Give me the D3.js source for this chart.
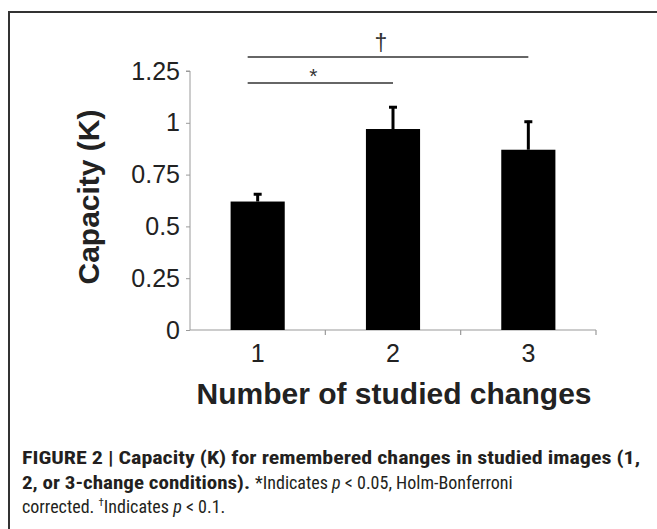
<!DOCTYPE html>
<html><head><meta charset="utf-8">
<script src="https://cdn.jsdelivr.net/npm/d3@7"></script>
<style>body{margin:0;background:#fff;overflow:hidden;}svg{display:block;}</style>
</head><body>
<svg id="c" width="657" height="529"></svg>
<script>
const categories = ["1", "2", "3"];
const values = [0.62, 0.97, 0.87];
const errors = [0.04, 0.11, 0.14];
const yTicks = [0, 0.25, 0.5, 0.75, 1, 1.25];
const yTickLabels = ["0", "0.25", "0.5", "0.75", "1", "1.25"];
const comparisons = [
  {from: "1", to: "3", mark: "†"},
  {from: "1", to: "2", mark: "*"}
];
const xTitle = "Number of studied changes";
const yTitle = "Capacity (K)";

const svg = d3.select("#c");
// frame
svg.append("rect").attr("x", 9).attr("y", 12).attr("width", 700).attr("height", 600)
  .attr("fill", "none").attr("stroke", "#333").attr("stroke-width", 2);

const x = d3.scaleBand().domain(categories).range([190, 596]).paddingInner(0).paddingOuter(0);
const y = d3.scaleLinear().domain([0, 1.25]).range([330, 71]);
const barW = x.bandwidth() * 0.4;
const font = "'Liberation Sans', Arial, sans-serif";

const axisColor = "#9a9a9a";
// y axis
const ya = svg.append("g").attr("transform", "translate(190,0)")
  .call(d3.axisLeft(y).tickValues(yTicks).tickFormat((d, i) => yTickLabels[i]).tickSize(4).tickPadding(6));
ya.select(".domain").attr("stroke", axisColor).attr("d", `M-4,${y(1.25)}H0V${y(0)}`);
ya.selectAll(".tick line").attr("stroke", axisColor);
ya.selectAll(".tick text").attr("font-family", font).attr("font-size", 25).attr("fill", "#222");

// x axis
const xa = svg.append("g").attr("transform", "translate(0,330)")
  .call(d3.axisBottom(x).tickSize(0).tickPadding(14));
xa.select(".domain").remove();
xa.selectAll(".tick text").attr("font-family", font).attr("font-size", 25).attr("fill", "#222").attr("dy", "0.71em");
const bounds = categories.map(c => x(c) + x.bandwidth());
svg.append("line").attr("x1", x.range()[0]).attr("x2", x.range()[1]).attr("y1", y(0)).attr("y2", y(0))
  .attr("stroke", axisColor).attr("stroke-width", 1.2);
svg.selectAll(".xt").data(bounds).enter().append("line")
  .attr("x1", d => d).attr("x2", d => d).attr("y1", y(0)).attr("y2", y(0) + 5)
  .attr("stroke", axisColor).attr("stroke-width", 1.2);

// bars
svg.selectAll(".bar").data(categories).enter().append("rect")
  .attr("x", d => x(d) + x.bandwidth() / 2 - barW / 2)
  .attr("y", (d, i) => y(values[i]))
  .attr("width", barW)
  .attr("height", (d, i) => y(0) - y(values[i]))
  .attr("fill", "#000");

// error bars
categories.forEach((c, i) => {
  const cx = x(c) + x.bandwidth() / 2;
  svg.append("line").attr("x1", cx).attr("x2", cx).attr("y1", y(values[i])).attr("y2", y(values[i] + errors[i]))
    .attr("stroke", "#000").attr("stroke-width", 3);
  svg.append("line").attr("x1", cx - 4).attr("x2", cx + 4).attr("y1", y(values[i] + errors[i]) + 1).attr("y2", y(values[i] + errors[i]) + 1)
    .attr("stroke", "#000").attr("stroke-width", 3);
});

// significance lines
const sigY = [57, 83];
comparisons.forEach((cmp, i) => {
  const x1 = x(cmp.from) + x.bandwidth() / 2 - 10;
  const x2 = x(cmp.to) + x.bandwidth() / 2;
  svg.append("line").attr("x1", x1).attr("x2", x2).attr("y1", sigY[i]).attr("y2", sigY[i])
    .attr("stroke", "#333").attr("stroke-width", 1.6);
  const isStar = cmp.mark === "*";
  svg.append("text").attr("x", (x1 + x2) / 2 - 7).attr("y", sigY[i] - (isStar ? 0 : 6))
    .attr("text-anchor", "middle").attr("font-family", font)
    .attr("font-size", isStar ? 21 : 23).attr("fill", "#333").text(cmp.mark);
});

// axis titles
svg.append("text").attr("x", 394).attr("y", 404).attr("text-anchor", "middle")
  .attr("font-family", font).attr("font-weight", "bold").attr("font-size", 30)
  .attr("fill", "#222").text(xTitle);
svg.append("text").attr("transform", "translate(99,197) rotate(-90)").attr("text-anchor", "middle")
  .attr("font-family", font).attr("font-weight", "bold").attr("font-size", 30)
  .attr("fill", "#222").text(yTitle);

// caption
const capFont = "'Roboto Condensed', 'Liberation Sans Narrow', 'Arial Narrow', Roboto, sans-serif";
const cap = svg.append("g").attr("font-family", capFont).attr("font-size", 18).attr("fill", "#231f20");
cap.append("text").attr("x", 22).attr("y", 464).attr("font-weight", "bold")
  .attr("font-size", 19).attr("textLength", 618).attr("lengthAdjust", "spacingAndGlyphs")
  .text("FIGURE 2 | Capacity (K) for remembered changes in studied images (1,");
cap.append("text").attr("x", 22).attr("y", 489).attr("font-weight", "bold")
  .attr("font-size", 19).attr("textLength", 228).attr("lengthAdjust", "spacingAndGlyphs")
  .text("2, or 3-change conditions).");
const l2 = cap.append("text").attr("x", 255).attr("y", 489);
l2.append("tspan").text("*Indicates ");
l2.append("tspan").attr("font-style", "italic").text("p");
l2.append("tspan").text(" < 0.05, Holm-Bonferroni");
const l3 = cap.append("text").attr("x", 22).attr("y", 513);
l3.append("tspan").text("corrected. ");
l3.append("tspan").attr("font-size", 11).attr("dy", -7).text("†");
l3.append("tspan").attr("dy", 7).text("Indicates ");
l3.append("tspan").attr("font-style", "italic").text("p");
l3.append("tspan").text(" < 0.1.");
</script>
</body></html>
